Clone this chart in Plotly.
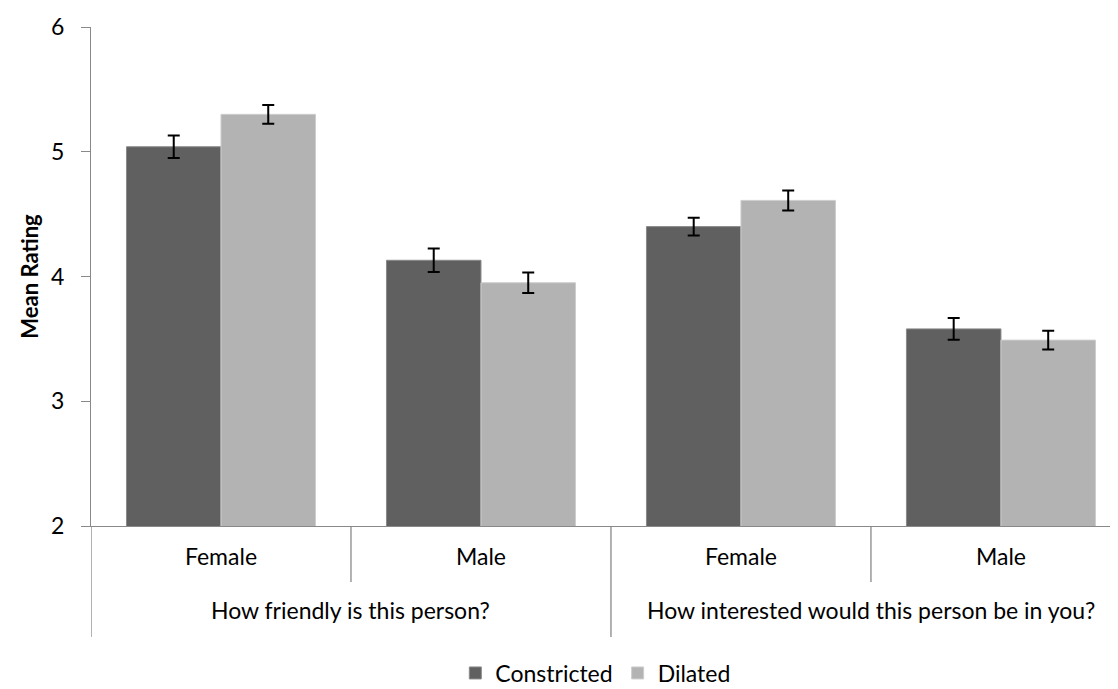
import plotly.graph_objects as go

questions = ["How friendly is this person?", "How interested would this person be in you?"]
categories = ["friendly-Female", "friendly-Male", "interested-Female", "interested-Male"]
genders = ["Female", "Male", "Female", "Male"]
constricted = [5.04, 4.13, 4.40, 3.58]
constricted_err = [0.09, 0.094, 0.071, 0.088]
dilated = [5.30, 3.95, 4.61, 3.49]
dilated_err = [0.075, 0.082, 0.08, 0.076]
y_ticks = [2, 3, 4, 5, 6]

font_family = "Lato, 'Open Sans', sans-serif"
axis_col = "#898989"
fs = 23
W, H = 1118, 689
top, bottom = 19, 518
plot_h = bottom - top


def py(pixel):
    """convert a pixel row below the plot to paper coordinates"""
    return (bottom - pixel) / plot_h


fig = go.Figure()
fig.add_trace(go.Bar(
    name="Constricted", x=categories, y=constricted,
    marker=dict(color="#606060", line=dict(color="#8a8a8a", width=1)),
    error_y=dict(type="data", array=constricted_err, color="black", thickness=2, width=6),
))
fig.add_trace(go.Bar(
    name="Dilated", x=categories, y=dilated,
    marker=dict(color="#b3b3b3", line=dict(color="#cdcdcd", width=1)),
    error_y=dict(type="data", array=dilated_err, color="black", thickness=2, width=6),
))

# separators below the axis (inner: between genders, outer: between questions)
for xb in [0.5, 2.5]:
    fig.add_shape(type="line", xref="x", yref="paper", x0=xb, x1=xb, y0=0, y1=py(574),
                  line=dict(color=axis_col, width=1.3))
for xb in [-0.5, 1.5]:
    fig.add_shape(type="line", xref="x", yref="paper", x0=xb, x1=xb, y0=0, y1=py(629),
                  line=dict(color=axis_col, width=1.3))

# outer group labels
for xc, q in zip([0.5, 2.5], questions):
    fig.add_annotation(x=xc, xref="x", y=py(602), yref="paper", text=q, showarrow=False,
                       xanchor="center", yanchor="middle", font=dict(size=fs, color="black"))

fig.update_layout(
    width=W, height=H,
    margin=dict(l=83, r=0, t=top, b=H - bottom, autoexpand=False),
    paper_bgcolor="white", plot_bgcolor="white",
    barmode="group", bargap=0.273, bargroupgap=0,
    font=dict(family=font_family, size=fs, color="black"),
    legend=dict(orientation="h", x=0.352, xanchor="left", y=py(665), yanchor="middle",
                font=dict(size=fs), itemwidth=30, tracegroupgap=0),
    showlegend=True,
)
fig.update_yaxes(
    range=[2, 6], tickvals=y_ticks, showgrid=False,
    showline=True, linecolor=axis_col, linewidth=1.3,
    ticks="outside", ticklen=9, tickcolor=axis_col, tickwidth=1.3,
    tickfont=dict(size=fs), ticklabelstandoff=12,
    title=dict(text="<b>Mean Rating</b>", font=dict(size=22), standoff=6),
    zeroline=False, automargin=False,
)
fig.update_xaxes(
    type="category", range=[-0.5, 3.481],
    tickvals=categories, ticktext=genders, tickfont=dict(size=fs),
    showline=True, linecolor=axis_col, linewidth=1.3,
    ticks="", showgrid=False, automargin=False, ticklabelstandoff=10,
)
fig.write_html("out.html")
